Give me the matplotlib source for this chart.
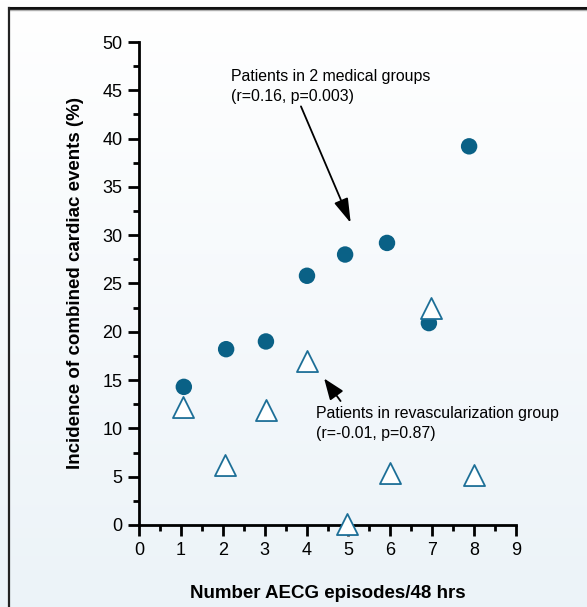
import numpy as np
from matplotlib import pyplot as plt
from matplotlib.lines import Line2D
from matplotlib.ticker import MultipleLocator

plt.rcParams['font.family'] = ['Liberation Sans', 'DejaVu Sans']

# 2 medical groups (filled circles)
med_x = [1.07, 2.08, 3.03, 4.01, 4.92, 5.92, 6.92, 7.88]
med_y = [14.3, 18.2, 19.0, 25.8, 28.0, 29.2, 20.9, 39.2]

# revascularization group (open triangles)
rev_x = [1.05, 2.05, 3.03, 4.01, 4.97, 6.0, 6.97, 8.0]
rev_y = [12.2, 6.2, 11.9, 17.0, 0.1, 5.4, 22.5, 5.2]

fig = plt.figure(figsize=(5.87, 6.07), dpi=100)

# background gradient, white at top to pale blue at bottom
bg = fig.add_axes([0, 0, 1, 1], zorder=-10)
grad = np.linspace(0, 1, 256).reshape(-1, 1)
top = np.array([1.0, 1.0, 1.0])
bottom = np.array([0.925, 0.953, 0.973])
img = top + (bottom - top) * grad[:, :, None]
bg.imshow(img, aspect='auto', extent=[0, 1, 0, 1])
bg.set_axis_off()

# frame lines top and left
fig.add_artist(Line2D([0.0153, 1.0], [0.9868, 0.9868], color='#111111', lw=2.2))
fig.add_artist(Line2D([0.0153, 1.0], [0.983, 0.983], color='#b0b0b0', lw=1))
fig.add_artist(Line2D([0.0153, 0.0153], [0.0, 0.9868], color='#222222', lw=1.6))

ax = fig.add_axes([0.2368, 0.1351, 0.6423, 0.7957])
ax.set_facecolor('none')

ax.scatter(med_x, med_y, s=140, color='#0a6186', edgecolors='none', zorder=3, clip_on=False)
ax.scatter(rev_x, rev_y, s=230, marker='^', facecolor='white', edgecolors='#1d6f97',
           linewidths=1.3, zorder=3, clip_on=False)

ax.set_xlim(0, 9)
ax.set_ylim(0, 50)
ax.xaxis.set_major_locator(MultipleLocator(1))
ax.xaxis.set_minor_locator(MultipleLocator(0.5))
ax.yaxis.set_major_locator(MultipleLocator(5))
ax.yaxis.set_minor_locator(MultipleLocator(2.5))
for s in ['top', 'right']:
    ax.spines[s].set_visible(False)
for s in ['left', 'bottom']:
    ax.spines[s].set_linewidth(2)
ax.tick_params(which='major', direction='out', length=8, width=2, labelsize=13, pad=4)
ax.tick_params(which='minor', direction='out', length=4, width=2)

ax.set_xlabel('Number AECG episodes/48 hrs', fontsize=13.5, fontweight='bold', labelpad=19)
ax.set_ylabel('Incidence of combined cardiac events (%)', fontsize=13.5, fontweight='bold', labelpad=13)

ax.annotate('', xy=(5.08, 31.0), xytext=(3.84, 43.6),
            arrowprops=dict(arrowstyle='-|>,head_length=1.5,head_width=0.45', color='black', lw=1.3),
            annotation_clip=False)
ax.text(2.2, 47.2, 'Patients in 2 medical groups\n(r=0.16, p=0.003)', fontsize=11.4,
        va='top', ha='left', linespacing=1.4)

ax.annotate('', xy=(4.38, 15.4), xytext=(4.85, 12.6),
            arrowprops=dict(arrowstyle='-|>,head_length=1.3,head_width=0.5', color='black', lw=1.3),
            annotation_clip=False)
ax.text(4.22, 12.3, 'Patients in revascularization group\n(r=-0.01, p=0.87)', fontsize=11.4,
        va='top', ha='left', linespacing=1.4)

fig.savefig('out.png', dpi=100)
